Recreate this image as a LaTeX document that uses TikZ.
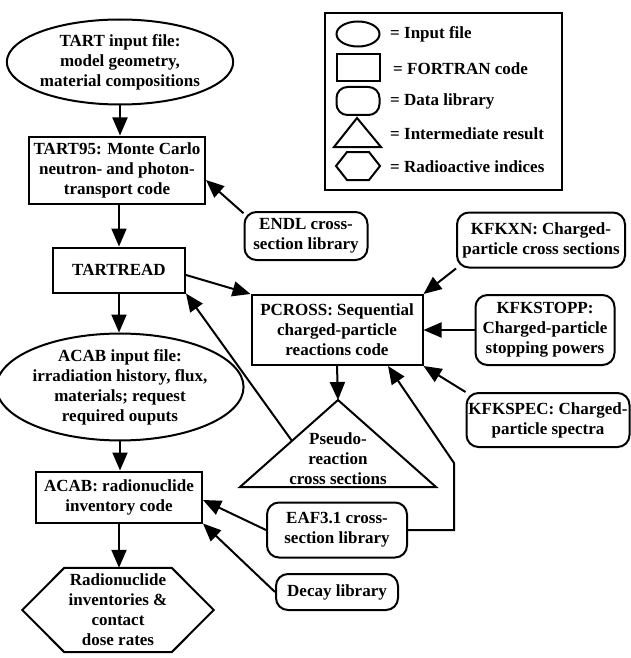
\documentclass[tikz,border=0pt]{standalone}
\usepackage{fontspec}
\setmainfont{Liberation Serif}
\usetikzlibrary{shapes.geometric,arrows.meta,calc}
\tikzset{
  txt/.style={align=center, inner sep=0pt, font=\bfseries\fontsize{17}{20}\selectfont},
  box/.style={txt, draw, line width=2pt},
  inputfile/.style={box, ellipse},
  code/.style={box, rectangle},
  datalib/.style={box, rounded corners=12pt},
  outline/.style={line width=2pt, line join=miter},
  arr/.style={line width=2pt, -{Triangle[length=18pt,width=15pt]}}
}
\begin{document}
\begin{tikzpicture}[x=1pt, y=-1pt]
  \useasboundingbox (0,0) rectangle (630,658);
  % main column
  \node[inputfile, minimum width=206pt, minimum height=85pt] (tartin) at (120,62)
    {TART input file:\\model geometry,\\material compositions};
  \node[code, minimum width=176pt, minimum height=67pt] (tart95) at (117,170)
    {TART95: Monte Carlo\\neutron- and photon-\\transport code};
  \node[code, minimum width=132pt, minimum height=45pt] (tartread) at (119,270) {TARTREAD};
  \node[inputfile, minimum width=216pt, minimum height=102pt] (acabin) at (120,387)
    {ACAB input file:\\irradiation history, flux,\\materials; request\\required ouputs};
  \node[code, minimum width=166pt, minimum height=51pt] (acab) at (119,497)
    {ACAB: radionuclide\\inventory code};
  \node[txt, minimum width=107pt, minimum height=84pt] (dose) at (118,610)
    {Radionuclide\\inventories \&\\contact\\dose rates};
  \draw[outline] (dose.north west) -- (dose.north east) -- ($(dose.east)+(42,0)$)
    -- (dose.south east) -- (dose.south west) -- ($(dose.west)+(-42,0)$) -- cycle;
  % right side
  \node[datalib, minimum width=123pt, minimum height=48pt] (endl) at (306,236)
    {ENDL cross-\\section library};
  \node[code, minimum width=171pt, minimum height=70pt] (pcross) at (337,330)
    {PCROSS: Sequential\\charged-particle\\reactions code};
  \node[datalib, minimum width=168pt, minimum height=55pt] (kfkxn) at (541,240)
    {KFKXN: Charged-\\particle cross sections};
  \node[datalib, minimum width=139pt, minimum height=70pt] (kfkstopp) at (545,330)
    {KFKSTOPP:\\Charged-particle\\stopping powers};
  \node[datalib, minimum width=163pt, minimum height=54pt] (kfkspec) at (548,420)
    {KFKSPEC: Charged-\\particle spectra};
  \coordinate (apex) at (338,400);
  \coordinate (baseL) at (240,487);
  \coordinate (baseR) at (436,487);
  \draw[outline] (apex) -- (baseR) -- (baseL) -- cycle;
  \node[txt] (pseudo) at (338,459) {Pseudo-\\reaction\\cross sections};
  \coordinate (pleft) at ($(baseL)!0.53!(apex)$);
  \node[datalib, minimum width=140pt, minimum height=55pt] (eaf) at (337,530)
    {EAF3.1 cross-\\section library};
  \node[datalib, minimum width=122pt, minimum height=36pt] (decay) at (337,592) {Decay library};
  \coordinate (bend) at (454,463);
  % connectors
  \draw[arr] (tartin.south) -- (tartin.south |- tart95.north);
  \draw[arr] (tartread.north |- tart95.south) -- (tartread.north);
  \draw[arr] (tartread.south) -- (tartread.south |- acabin.north);
  \draw[arr] (acabin.south) -- (acabin.south |- acab.north);
  \draw[arr] (acab.south) -- (acab.south |- dose.north);
  \draw[arr] (endl.160) -- ($(tart95.east)+(0,10)$);
  \draw[arr] ($(tartread.east)+(0,5)$) -- (pcross.north west);
  \draw[arr] (kfkxn.south west) -- (pcross.north east);
  \draw[arr] (kfkstopp.west) -- (pcross.east);
  \draw[arr] (kfkspec.north west) -- (pcross.south east);
  \draw[arr] (pcross.south) -- (apex);
  \draw[arr] (pleft) -- (tartread.south east);
  \draw[arr] (eaf.west) -- ($(acab.east)+(0,3)$);
  \draw[arr] (eaf.east) -| (bend) -- ($(pcross.south)+(51,0)$);
  \draw[arr] (decay.west) -- (acab.south east);
  % legend
  \node[draw, line width=2pt, minimum width=237pt, minimum height=177pt] (legend) at (443.5,101.5) {};
  \node[draw, outline, ellipse, minimum width=43pt, minimum height=25pt, inner sep=0pt] (lginput) at (358,34) {};
  \node[draw, outline, minimum width=43pt, minimum height=27pt, inner sep=0pt] (lgcode) at (358,68) {};
  \node[draw, outline, rounded corners=11pt, minimum width=43pt, minimum height=28pt, inner sep=0pt] (lgdata) at (358,101) {};
  \draw[outline] (357,118) -- (381,147) -- (334,147) -- cycle;
  \draw[outline] (347,152) -- (369,152) -- (380,166) -- (369,180) -- (347,180) -- (336,166) -- cycle;
  \node[txt, anchor=west] (lgt1) at (390,34) {= Input file};
  \node[txt, anchor=west] (lgt2) at (393,69) {= FORTRAN code};
  \node[txt, anchor=west] (lgt3) at (390,101) {= Data library};
  \node[txt, anchor=west] (lgt4) at (390,134) {= Intermediate result};
  \node[txt, anchor=west] (lgt5) at (390,167) {= Radioactive indices};
\end{tikzpicture}
\end{document}
